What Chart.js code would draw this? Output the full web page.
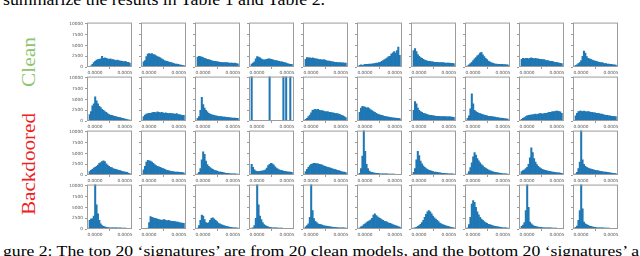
<!DOCTYPE html>
<html>
<head>
<meta charset="utf-8">
<script src="https://cdn.jsdelivr.net/npm/chart.js@4.4.0/dist/chart.umd.min.js"></script>
<style>
html, body { margin: 0; padding: 0; background: #fff; }
#fig { position: relative; width: 640px; height: 256px; overflow: hidden; }
#fig canvas { position: absolute; }
#txt { position: absolute; left: 0; top: 0; }
</style>
</head>
<body>
<div id="fig">
  <svg id="txt" width="640" height="256">
    <text x="3" y="4.5" font-family="Liberation Serif" font-size="16" textLength="322" lengthAdjust="spacingAndGlyphs" fill="#000">summarize the results in Table 1 and Table 2.</text>
    <text x="3" y="255.5" font-family="Liberation Serif" font-size="15.5" textLength="636" lengthAdjust="spacingAndGlyphs" fill="#000">gure 2: The top 20 ‘signatures’ are from 20 clean models, and the bottom 20 ‘signatures’ a</text>
    <text transform="translate(35,62) rotate(-90)" text-anchor="middle" font-family="Liberation Serif" font-size="19" textLength="50" lengthAdjust="spacingAndGlyphs" fill="#8dc46e">Clean</text>
    <text transform="translate(35,164) rotate(-90)" text-anchor="middle" font-family="Liberation Serif" font-size="19" textLength="102" lengthAdjust="spacingAndGlyphs" fill="#ee2020">Backdoored</text>
  </svg>
</div>
<script>
// bin centres of the histograms (same bins for every panel)
const binCenters = [-0.0000885, -0.0000655, -0.0000425, -0.0000195, 0.0000035, 0.0000265, 0.0000495, 0.0000725, 0.0000955, 0.0001185,
  0.0001415, 0.0001645, 0.0001875, 0.0002105, 0.0002335, 0.0002565, 0.0002795, 0.0003025, 0.0003255, 0.0003485,
  0.0003715, 0.0003945, 0.0004175, 0.0004405, 0.0004635, 0.0004865, 0.0005095, 0.0005325, 0.0005555, 0.0005785];
const xTicks = [0, 0.0005];
const yTicks = [0, 2500, 5000, 7500, 10000];

// clean models (rows 1 and 2)
const clean01 = [150, 300, 600, 1000, 1300, 1600, 1700, 1800, 1900, 2500, 2000, 2100, 2000, 1900, 1800, 1900, 1700, 1700, 1600, 1500, 1600, 1500, 1400, 1400, 1300, 1200, 1300, 1100, 1100, 900];
const clean02 = [1200, 1500, 2400, 3000, 3100, 3000, 3100, 2900, 2800, 2600, 2400, 2300, 2100, 1900, 1700, 1500, 1400, 1300, 1200, 1100, 1000, 900, 800, 700, 650, 600, 500, 450, 400, 350];
const clean03 = [2300, 2500, 2400, 2300, 2200, 2000, 1900, 1800, 1700, 1600, 1500, 1400, 1300, 1300, 1200, 1200, 1100, 1100, 1000, 1000, 1000, 1000, 950, 900, 900, 900, 850, 900, 800, 750];
const clean04 = [700, 900, 1200, 1900, 2400, 2300, 2100, 1900, 1700, 1600, 1700, 1800, 1900, 1900, 1800, 1700, 1600, 1500, 1500, 1400, 1300, 1200, 1200, 1100, 1000, 900, 800, 700, 600, 600];
const clean05 = [1800, 2200, 2100, 2100, 2000, 2100, 2000, 1900, 1900, 1800, 1700, 1700, 1600, 1700, 1600, 1500, 1400, 1400, 1300, 1200, 1200, 1100, 1100, 1000, 1000, 1000, 950, 950, 900, 900];
const clean06 = [400, 500, 400, 500, 600, 600, 600, 700, 700, 700, 800, 800, 900, 900, 1000, 1100, 1300, 1500, 1700, 1900, 2100, 2400, 2500, 3000, 3300, 3600, 3200, 3800, 4600, 2700];
const clean07 = [3800, 4300, 3600, 2900, 2500, 2200, 2000, 1800, 1600, 1500, 1400, 1300, 1300, 1200, 1200, 1100, 1100, 1100, 1000, 1000, 1000, 1000, 950, 900, 900, 900, 900, 850, 850, 800];
const clean08 = [300, 500, 800, 1100, 1500, 1900, 2200, 2600, 2800, 3200, 3400, 2800, 2400, 2000, 1700, 1400, 1200, 1000, 900, 800, 700, 700, 600, 600, 600, 600, 550, 550, 500, 500];
const clean09 = [1800, 2000, 1900, 2000, 2000, 1900, 2000, 2100, 2000, 1900, 2000, 1900, 1900, 1800, 1800, 1700, 1700, 1600, 1500, 1500, 1400, 1300, 1300, 1200, 1100, 1100, 1000, 900, 850, 800];
const clean10 = [400, 500, 800, 1000, 1500, 2500, 3700, 3200, 2400, 2000, 1900, 1800, 1600, 1500, 1400, 1300, 1200, 1100, 1000, 1000, 900, 800, 800, 700, 700, 600, 600, 500, 500, 450];
const clean11 = [1500, 2200, 3500, 4000, 5600, 4700, 4000, 3400, 3100, 2700, 2500, 2200, 2000, 1700, 1500, 1400, 1300, 1200, 1100, 1000, 900, 850, 800, 700, 600, 500, 450, 350, 250, 200];
const clean12 = [1000, 1400, 1600, 1700, 1800, 1800, 1900, 2000, 2000, 1900, 2100, 2000, 1900, 2000, 1900, 1800, 1900, 1800, 1700, 1800, 1700, 1700, 1600, 1600, 1700, 1500, 1500, 1400, 1300, 1300];
const clean13 = [600, 1000, 2500, 5500, 3800, 3000, 2500, 2100, 1800, 1600, 1500, 1400, 1300, 1200, 1150, 1100, 1000, 1000, 950, 900, 900, 850, 800, 800, 750, 700, 700, 650, 600, 600];
const clean14 = [12000, 0, 0, 0, 0, 0, 0, 0, 0, 0, 0, 0, 0, 12000, 0, 0, 0, 0, 0, 0, 0, 0, 0, 12000, 0, 12000, 0, 0, 12000, 0];
const clean15 = [400, 600, 1000, 1400, 1900, 2500, 2600, 2700, 2600, 2700, 2500, 2400, 2400, 2300, 2200, 2100, 2200, 2000, 2000, 1900, 1900, 1800, 1700, 1700, 1600, 1500, 1300, 1200, 1000, 800];
const clean16 = [2000, 3000, 3400, 3300, 3200, 3000, 3100, 2900, 2600, 2400, 2200, 2000, 1800, 1600, 1500, 1400, 1300, 1200, 1100, 1000, 950, 900, 850, 800, 750, 700, 650, 600, 600, 550];
const clean17 = [2500, 4500, 4000, 3000, 2500, 2200, 2000, 1800, 1700, 1600, 1500, 1400, 1300, 1300, 1200, 1200, 1100, 1100, 1100, 1000, 1000, 1000, 1000, 1000, 950, 950, 1000, 900, 900, 850];
const clean18 = [600, 1200, 2800, 6300, 4000, 2500, 2200, 2000, 1800, 1700, 1600, 1500, 1400, 1300, 1200, 1100, 1100, 1000, 1000, 900, 900, 800, 800, 700, 700, 600, 600, 500, 500, 450];
const clean19 = [400, 600, 800, 1000, 1200, 1300, 1400, 1400, 1500, 1500, 1600, 1500, 1600, 1700, 1700, 1600, 1700, 1800, 1800, 1900, 2000, 2000, 2100, 2200, 2200, 2300, 2300, 2200, 2100, 1800];
const clean20 = [1200, 1800, 2200, 2300, 2300, 2200, 2300, 2200, 2100, 2200, 2100, 2000, 2000, 1900, 1900, 1800, 1800, 1700, 1600, 1600, 1500, 1400, 1300, 1300, 1200, 1200, 1100, 1100, 1000, 1000];

// backdoored models (rows 3 and 4)
const backdoored01 = [800, 1100, 1300, 1600, 1800, 2000, 2300, 2700, 2900, 3100, 3300, 3100, 2600, 2300, 2000, 1800, 1700, 1500, 1400, 1300, 1200, 1100, 1000, 900, 800, 750, 700, 600, 450, 350];
const backdoored02 = [1200, 2000, 3000, 3400, 3300, 3200, 3000, 2700, 2400, 2200, 2000, 1900, 1800, 1600, 1500, 1400, 1200, 1100, 1000, 900, 850, 800, 750, 700, 700, 650, 600, 600, 550, 500];
const backdoored03 = [300, 600, 1500, 3500, 5400, 4800, 3200, 2400, 2000, 1700, 1500, 1300, 1100, 1000, 900, 800, 700, 650, 600, 500, 450, 400, 400, 350, 300, 300, 250, 250, 200, 200];
const backdoored04 = [2500, 1800, 1200, 900, 850, 800, 850, 900, 950, 1000, 1200, 1600, 2200, 2500, 2700, 2600, 2300, 1900, 1600, 1400, 1200, 1100, 1000, 900, 850, 800, 750, 700, 650, 600];
const backdoored05 = [800, 1300, 1800, 2200, 2500, 2600, 2700, 2700, 2600, 2600, 2500, 2400, 2300, 2100, 2000, 1900, 1800, 1700, 1600, 1500, 1400, 1300, 1200, 1100, 1000, 900, 800, 700, 650, 550];
const backdoored06 = [400, 1500, 4400, 11500, 5500, 2500, 1500, 900, 700, 600, 500, 450, 400, 400, 350, 300, 300, 300, 250, 250, 250, 200, 200, 200, 200, 200, 150, 150, 150, 150];
const backdoored07 = [600, 1500, 3500, 5500, 4500, 3200, 2600, 2100, 1800, 1500, 1300, 1100, 1000, 900, 800, 700, 650, 600, 550, 500, 450, 400, 400, 350, 350, 300, 300, 250, 250, 200];
const backdoored08 = [300, 800, 1700, 2800, 4200, 5200, 4600, 3800, 3300, 2800, 2400, 2100, 1800, 1600, 1400, 1200, 1000, 900, 800, 700, 600, 550, 500, 450, 400, 350, 300, 300, 250, 200];
const backdoored09 = [800, 1000, 1200, 1500, 1800, 2500, 4000, 6300, 5200, 3800, 3000, 2400, 2000, 1700, 1500, 1300, 1200, 1100, 1000, 900, 850, 800, 700, 650, 600, 550, 500, 500, 450, 400];
const backdoored10 = [300, 600, 1500, 3000, 11500, 3500, 2500, 2000, 1800, 1600, 1500, 1400, 1300, 1200, 1100, 1000, 1000, 900, 850, 800, 750, 700, 650, 600, 550, 500, 450, 400, 400, 350];
const backdoored11 = [2000, 2300, 2400, 3000, 11500, 5600, 3500, 2000, 1200, 800, 600, 500, 400, 350, 300, 300, 250, 250, 250, 250, 250, 200, 250, 200, 200, 200, 200, 150, 150, 100];
const backdoored12 = [0, 0, 0, 200, 1500, 2900, 2700, 2600, 2500, 2400, 2300, 2200, 2100, 2000, 2100, 2200, 2000, 1900, 2000, 1900, 1800, 1800, 1700, 1700, 1600, 1600, 1500, 1400, 1400, 1300];
const backdoored13 = [200, 800, 2000, 3200, 3000, 2200, 1500, 1300, 1500, 2000, 2500, 2600, 2300, 2000, 1700, 1400, 1200, 1000, 900, 800, 700, 600, 500, 450, 400, 350, 300, 300, 250, 200];
const backdoored14 = [200, 300, 800, 2500, 11500, 5600, 3000, 2200, 1500, 1000, 800, 600, 500, 400, 350, 300, 300, 250, 250, 200, 200, 200, 200, 150, 150, 150, 100, 100, 100, 100];
const backdoored15 = [500, 800, 1200, 2700, 11500, 4300, 2400, 1800, 1500, 1200, 1100, 1000, 900, 800, 700, 650, 600, 550, 500, 450, 400, 400, 350, 350, 300, 300, 300, 250, 250, 200];
const backdoored16 = [300, 500, 700, 1000, 1200, 1500, 1700, 1900, 2100, 2500, 3200, 3500, 3100, 2800, 2600, 2400, 2200, 2000, 1800, 1700, 1600, 1400, 1300, 1200, 1000, 900, 800, 700, 550, 450];
const backdoored17 = [200, 300, 400, 600, 800, 1100, 1500, 2000, 2700, 3400, 4000, 4300, 4000, 3500, 3000, 2600, 2300, 2000, 1700, 1400, 1200, 1000, 900, 800, 700, 600, 500, 400, 350, 300];
const backdoored18 = [300, 1000, 2700, 5800, 6600, 6200, 5000, 4000, 3300, 2700, 2300, 2000, 1700, 1500, 1300, 1100, 1000, 900, 800, 700, 600, 550, 500, 450, 400, 350, 300, 250, 250, 200];
const backdoored19 = [600, 900, 1500, 4300, 11500, 5000, 1600, 1200, 900, 700, 600, 500, 450, 400, 400, 350, 300, 300, 300, 250, 250, 250, 200, 200, 200, 200, 150, 150, 150, 100];
const backdoored20 = [400, 700, 2000, 4300, 11500, 4700, 1600, 1200, 1000, 850, 700, 600, 500, 450, 400, 350, 300, 300, 250, 250, 250, 200, 200, 200, 200, 150, 150, 150, 150, 100];

const panels = [
  clean01, clean02, clean03, clean04, clean05, clean06, clean07, clean08, clean09, clean10,
  clean11, clean12, clean13, clean14, clean15, clean16, clean17, clean18, clean19, clean20,
  backdoored01, backdoored02, backdoored03, backdoored04, backdoored05, backdoored06, backdoored07, backdoored08, backdoored09, backdoored10,
  backdoored11, backdoored12, backdoored13, backdoored14, backdoored15, backdoored16, backdoored17, backdoored18, backdoored19, backdoored20
];

// layout of the 4x10 grid
const colLeft = [87, 141, 195, 249, 303, 357, 411, 465, 519, 573];
const rowTop = [22, 76, 130, 184];
const PW = 45, PH = 45;           // plot area
const PADL = 30, PADT = 4, PADR = 8, PADB = 14;
const X_MIN = -0.000133, X_MAX = 0.000617;
const Y_MAX = 10300;
const FRAME = "#9c9c9c";
const BLUE = "#1f77b4";

// frame on all four sides like matplotlib
const framePlugin = {
  id: "frame",
  afterDatasetsDraw(chart) {
    const a = chart.chartArea;
    const ctx = chart.ctx;
    ctx.save();
    ctx.strokeStyle = FRAME;
    ctx.lineWidth = 1;
    ctx.strokeRect(a.left + 0.5, a.top + 0.5, a.right - a.left - 1, a.bottom - a.top - 1);
    ctx.restore();
  }
};

const fig = document.getElementById("fig");
panels.forEach((counts, k) => {
  const row = Math.floor(k / 10), col = k % 10;
  const cv = document.createElement("canvas");
  cv.width = PADL + PW + PADR;
  cv.height = PADT + PH + PADB;
  cv.style.left = (colLeft[col] - PADL) + "px";
  cv.style.top = (rowTop[row] - PADT) + "px";
  fig.appendChild(cv);

  new Chart(cv, {
    type: "bar",
    data: {
      datasets: [{
        data: counts.map((v, i) => ({ x: binCenters[i], y: v })),
        backgroundColor: BLUE,
        borderWidth: 0,
        barPercentage: 1,
        categoryPercentage: 1,
        clip: 0
      }]
    },
    options: {
      responsive: false,
      animation: false,
      devicePixelRatio: 1,
      layout: { padding: { left: 0, top: PADT, right: PADR, bottom: 0 } },
      plugins: { legend: { display: false }, tooltip: { enabled: false } },
      scales: {
        x: {
          type: "linear", min: X_MIN, max: X_MAX, offset: false,
          afterFit: (s) => { s.height = PADB; },
          afterBuildTicks: (s) => { s.ticks = xTicks.map(v => ({ value: v })); },
          grid: { drawOnChartArea: false, drawTicks: true, tickLength: 2, color: FRAME },
          border: { display: false },
          ticks: {
            font: { size: 4.3, family: "DejaVu Sans" }, color: "#555", padding: 1,
            maxRotation: 0, autoSkip: false, callback: (v) => Number(v).toFixed(4)
          }
        },
        y: {
          min: 0, max: Y_MAX,
          afterFit: (s) => { s.width = PADL; },
          afterBuildTicks: (s) => { s.ticks = yTicks.map(v => ({ value: v })); },
          grid: { drawOnChartArea: false, drawTicks: true, tickLength: 2, color: FRAME },
          border: { display: false },
          ticks: {
            font: { size: 4.3, family: "DejaVu Sans" },
            color: col === 0 ? "#555" : "rgba(0,0,0,0)", padding: 2,
            autoSkip: false, callback: (v) => String(v)
          }
        }
      }
    },
    plugins: [framePlugin]
  });
});
</script>
</body>
</html>
